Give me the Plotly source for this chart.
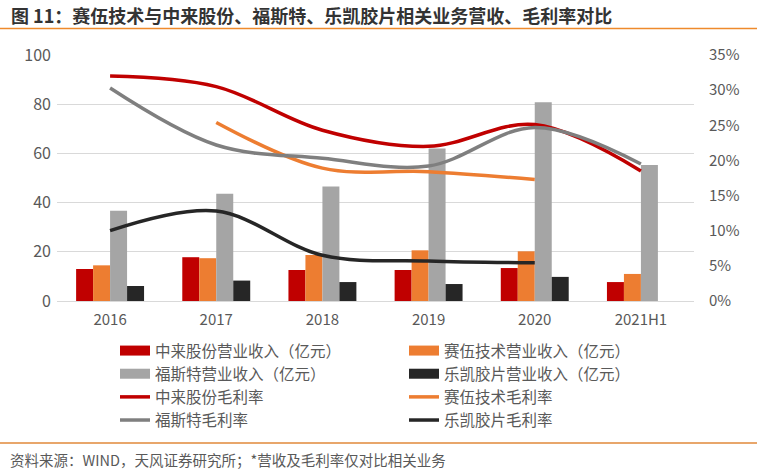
import plotly.graph_objects as go

categories = ["2016", "2017", "2018", "2019", "2020", "2021H1"]

# 营业收入（亿元）
zl_rev = [13.0, 17.8, 12.6, 12.6, 13.4, 7.7]
sw_rev = [14.5, 17.4, 18.7, 20.6, 20.2, 11.0]
fst_rev = [36.7, 43.6, 46.5, 62.0, 80.8, 55.3]
lk_rev = [6.1, 8.3, 7.7, 6.9, 9.8, None]

# 毛利率
zl_gm = [0.320, 0.305, 0.243, 0.220, 0.251, 0.185]
sw_cats = ["2017", "2018", "2019", "2020"]
sw_gm = [0.254, 0.189, 0.184, 0.173]
fst_gm = [0.303, 0.222, 0.203, 0.192, 0.247, 0.195]
lk_cats = ["2016", "2017", "2018", "2019", "2020"]
lk_gm = [0.100, 0.128, 0.065, 0.057, 0.0545]

bar_names = ["中来股份营业收入（亿元）", "赛伍技术营业收入（亿元）",
             "福斯特营业收入（亿元）", "乐凯胶片营业收入（亿元）"]
line_names = ["中来股份毛利率", "赛伍技术毛利率", "福斯特毛利率", "乐凯胶片毛利率"]

title_text = "图 11：赛伍技术与中来股份、福斯特、乐凯胶片相关业务营收、毛利率对比"
source_text = "资料来源：WIND，天风证券研究所；*营收及毛利率仅对比相关业务"

bar_colors = ["#C00000", "#ED7D31", "#A5A5A5", "#262626"]
line_colors = ["#C00000", "#ED7D31", "#7F7F7F", "#262626"]

FONT = "Noto Sans CJK SC"
W, H = 764, 473
ML, MR, MT, MB = 57, 70, 55, 172
PW = W - ML - MR
PH = H - MT - MB
PB = H - MB


def fx(p):
    return (p - ML) / PW


def fy(p):
    return (PB - p) / PH


fig = go.Figure()

bar_data = [zl_rev, sw_rev, fst_rev, lk_rev]
for name, vals, col in zip(bar_names, bar_data, bar_colors):
    fig.add_trace(go.Bar(x=categories, y=vals, name=name, marker_color=col,
                         marker_line_width=0, showlegend=False, yaxis="y"))

# legend proxies for bars (rectangular swatches)
for i, (name, col) in enumerate(zip(bar_names, bar_colors)):
    fig.add_trace(go.Scatter(x=[None], y=[None], mode="lines", name=name,
                             line=dict(color=col, width=10), legendrank=i + 1,
                             hoverinfo="skip"))

line_data = [(categories, zl_gm), (sw_cats, sw_gm), (categories, fst_gm), (lk_cats, lk_gm)]
for i, ((xs, ys), name, col) in enumerate(zip(line_data, line_names, line_colors)):
    fig.add_trace(go.Scatter(x=xs, y=ys, name=name, mode="lines", yaxis="y2",
                             line=dict(color=col, width=3.5, shape="spline", smoothing=1.0),
                             legendrank=i + 5))

fig.update_layout(
    width=W, height=H,
    margin=dict(l=ML, r=MR, t=MT, b=MB),
    paper_bgcolor="white", plot_bgcolor="white",
    font=dict(family=FONT, color="#595959", size=15),
    barmode="group", bargap=0.36, bargroupgap=0,
    xaxis=dict(type="category", categoryorder="array", categoryarray=categories,
               range=[-0.5, 5.5], showgrid=False, showline=False, ticks="",
               tickfont=dict(size=15, color="#595959"), ticklabelstandoff=8),
    yaxis=dict(range=[0, 100], dtick=20, showgrid=True, gridcolor="#D9D9D9", gridwidth=1,
               zeroline=True, zerolinecolor="#D9D9D9", zerolinewidth=1,
               ticks="", showline=False, tickfont=dict(size=16, color="#595959"),
               ticklabelstandoff=5),
    yaxis2=dict(range=[0, 0.35], dtick=0.05, tickformat=".0%", overlaying="y", side="right",
                showgrid=False, zeroline=False, ticks="", showline=False,
                tickfont=dict(size=15, color="#595959"), ticklabelstandoff=14),
    legend=dict(orientation="h", x=fx(115), xanchor="left", y=fy(334), yanchor="top",
                entrywidth=244, entrywidthmode="pixels", itemwidth=30,
                font=dict(size=15.5, color="#595959", family=FONT),
                bgcolor="rgba(0,0,0,0)", traceorder="normal"),
    shapes=[
        dict(type="line", xref="paper", yref="paper", x0=fx(0), x1=fx(757),
             y0=fy(28.5), y1=fy(28.5), line=dict(color="#EE8A2C", width=1.5)),
        dict(type="line", xref="paper", yref="paper", x0=fx(0), x1=fx(757),
             y0=fy(443), y1=fy(443), line=dict(color="#E0893A", width=1.5)),
    ],
    annotations=[
        dict(text="<b>" + title_text + "</b>", xref="paper", yref="paper",
             x=fx(9), y=fy(15), xanchor="left", yanchor="middle", showarrow=False,
             font=dict(size=18, color="#333333", family=FONT)),
        dict(text=source_text, xref="paper", yref="paper",
             x=fx(8), y=fy(459), xanchor="left", yanchor="middle", showarrow=False,
             font=dict(size=14.5, color="#595959", family=FONT)),
    ],
)

fig.write_html("out.html")
